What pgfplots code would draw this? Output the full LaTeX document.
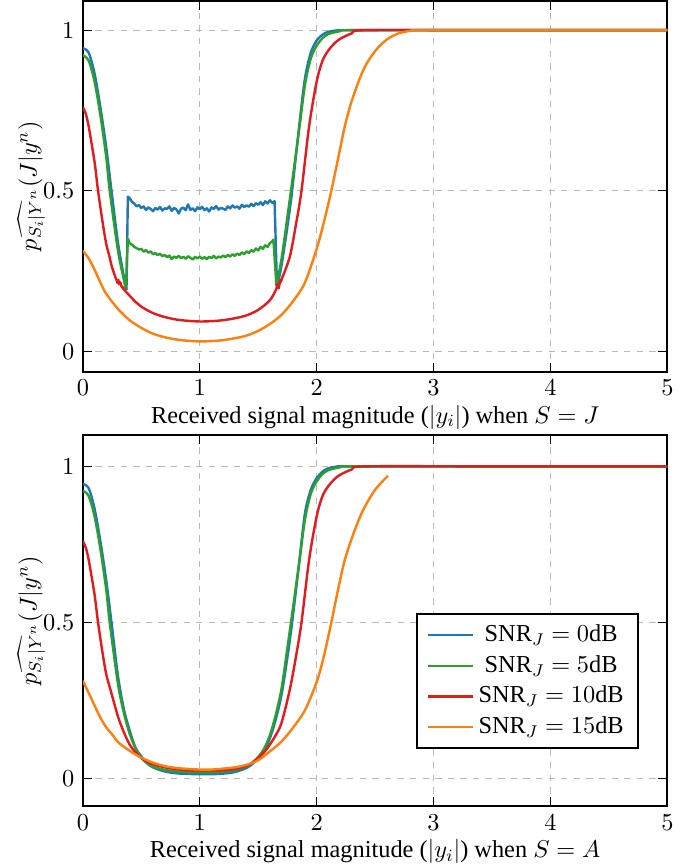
\RequirePackage{fix-cm}
\documentclass[border=0pt]{standalone}
\usepackage{amsmath}
\usepackage{fontspec}
\setmainfont{Liberation Serif}
\usepackage{pgfplots}
\pgfplotsset{compat=1.18}
\definecolor{cblue}{RGB}{31,119,180}
\definecolor{cgreen}{RGB}{44,160,44}
\definecolor{cred}{RGB}{228,26,28}
\definecolor{corange}{RGB}{255,127,14}
\pgfplotsset{myax/.style={
  scale only axis, width=278.6pt, height=176.7pt,
  xmin=0, xmax=5, xtick={0,1,2,3,4,5}, ytick={0,0.5,1},
  grid=major, grid style={dashed, gray!55, line width=0.5pt},
  axis line style={line width=0.9pt},
  tick style={black, line width=0.5pt},
  every axis plot/.append style={line width=1.15pt, line join=round},
  ylabel={$\widehat{p_{S_i|Y^n}}(J|y^n)$},
  every axis y label/.style={at={(axis description cs:-0.088,0.5)}, rotate=90, anchor=center, inner sep=1pt},
  xlabel style={yshift=0.7pt, inner sep=1pt},
}}
\begin{document}
\fontsize{11.6}{13.9}\selectfont
\begin{tikzpicture}
\begin{axis}[myax, at={(0pt,0pt)}, anchor=north west,
  ymin=-0.062, ymax=1.091,
  xlabel={Received signal magnitude ($|y_i|$) when $S=J$}]
% SNR 0 dB
\addplot[cblue, smooth, tension=0.5] coordinates {
(0,0.944)(0.05,0.930)(0.10,0.865)(0.15,0.760)(0.20,0.635)(0.245,0.500)(0.30,0.340)(0.35,0.235)(0.373,0.192)};
\addplot[cblue] coordinates {(0.373,0.192)
(0.385,0.482)(0.40,0.478)(0.42,0.466)(0.44,0.461)(0.46,0.452)(0.48,0.456)(0.50,0.447)(0.52,0.452)(0.54,0.441)
(0.56,0.449)(0.58,0.444)(0.60,0.437)(0.62,0.447)(0.64,0.442)(0.66,0.450)(0.68,0.439)(0.70,0.446)(0.72,0.444)
(0.74,0.452)(0.76,0.438)(0.78,0.447)(0.80,0.443)(0.82,0.430)(0.84,0.445)(0.86,0.448)(0.88,0.440)(0.90,0.458)
(0.92,0.441)(0.94,0.446)(0.96,0.437)(0.98,0.449)(1.00,0.443)(1.02,0.451)(1.04,0.440)(1.06,0.446)(1.08,0.436)
(1.10,0.449)(1.12,0.444)(1.14,0.453)(1.16,0.442)(1.18,0.447)(1.20,0.445)(1.22,0.441)(1.24,0.452)(1.26,0.446)
(1.28,0.455)(1.30,0.448)(1.32,0.452)(1.34,0.445)(1.36,0.457)(1.38,0.450)(1.40,0.455)(1.42,0.451)(1.44,0.460)
(1.46,0.453)(1.48,0.462)(1.50,0.457)(1.52,0.465)(1.54,0.456)(1.56,0.468)(1.58,0.461)(1.60,0.471)(1.62,0.463)
(1.64,0.468)(1.661,0.198)};
\addplot[cblue, smooth, tension=0.5] coordinates {
(1.661,0.198)(1.70,0.270)(1.75,0.390)(1.79,0.500)(1.85,0.700)(1.90,0.850)(1.95,0.930)(2.00,0.968)(2.05,0.986)
(2.10,0.995)(2.17,0.999)(2.30,1.0)(3.5,1.0)(5,1.0)};
% SNR 5 dB
\addplot[cgreen, smooth, tension=0.5] coordinates {
(0,0.922)(0.05,0.905)(0.10,0.840)(0.15,0.735)(0.20,0.605)(0.23,0.500)(0.30,0.315)(0.35,0.225)(0.368,0.195)};
\addplot[cgreen] coordinates {(0.368,0.195)
(0.385,0.352)(0.40,0.338)(0.42,0.333)(0.44,0.326)(0.46,0.322)(0.48,0.318)(0.50,0.320)(0.52,0.311)(0.54,0.316)
(0.56,0.308)(0.58,0.312)(0.60,0.303)(0.62,0.307)(0.64,0.300)(0.66,0.305)(0.68,0.297)(0.70,0.301)(0.72,0.294)
(0.74,0.299)(0.76,0.288)(0.78,0.296)(0.80,0.292)(0.82,0.298)(0.84,0.291)(0.86,0.295)(0.88,0.289)(0.90,0.297)
(0.92,0.292)(0.94,0.287)(0.96,0.295)(0.98,0.290)(1.00,0.296)(1.02,0.289)(1.04,0.294)(1.06,0.288)(1.08,0.295)
(1.10,0.291)(1.12,0.298)(1.14,0.290)(1.16,0.296)(1.18,0.293)(1.20,0.299)(1.22,0.294)(1.24,0.301)(1.26,0.296)
(1.28,0.303)(1.30,0.298)(1.32,0.305)(1.34,0.301)(1.36,0.309)(1.38,0.304)(1.40,0.312)(1.42,0.307)(1.44,0.316)
(1.46,0.311)(1.48,0.321)(1.50,0.315)(1.52,0.326)(1.54,0.320)(1.56,0.331)(1.58,0.326)(1.60,0.338)(1.62,0.343)
(1.63,0.348)(1.656,0.205)};
\addplot[cgreen, smooth, tension=0.5] coordinates {
(1.656,0.205)(1.70,0.290)(1.75,0.420)(1.78,0.500)(1.85,0.690)(1.90,0.830)(1.95,0.912)(2.00,0.952)(2.05,0.975)
(2.10,0.988)(2.20,0.997)(2.30,1.0)(3.5,1.0)(5,1.0)};
% SNR 10 dB
\addplot[cred, smooth, tension=0.5] coordinates {
(0,0.761)(0.025,0.740)(0.05,0.700)(0.10,0.590)(0.13,0.500)(0.17,0.400)(0.20,0.335)(0.225,0.300)(0.25,0.262)
(0.288,0.222)};
\addplot[cred] coordinates {
(0.288,0.222)(0.297,0.214)(0.303,0.224)(0.31,0.210)(0.32,0.216)(0.33,0.204)(0.35,0.195)};
\addplot[cred, smooth, tension=0.5] coordinates {
(0.33,0.204)(0.35,0.195)(0.373,0.185)(0.45,0.155)(0.50,0.140)(0.60,0.120)(0.70,0.108)(0.80,0.100)(0.90,0.096)
(1.00,0.094)(1.10,0.095)(1.20,0.098)(1.30,0.104)(1.40,0.113)(1.50,0.130)(1.60,0.160)(1.655,0.195)};
\addplot[cred] coordinates {
(1.655,0.195)(1.665,0.210)(1.675,0.197)(1.685,0.215)(1.70,0.225)};
\addplot[cred, smooth, tension=0.5] coordinates {
(1.685,0.215)(1.70,0.225)(1.77,0.295)(1.82,0.390)(1.87,0.500)(1.935,0.700)(2.00,0.840)(2.05,0.905)(2.10,0.937)
(2.15,0.958)(2.20,0.973)(2.30,0.990)(2.42,1.0)(3.5,1.0)(5,1.0)};
% SNR 15 dB
\addplot[corange, smooth, tension=0.5] coordinates {
(0,0.314)(0.05,0.290)(0.10,0.255)(0.15,0.215)(0.20,0.180)(0.30,0.133)(0.40,0.098)(0.50,0.074)(0.60,0.056)
(0.70,0.045)(0.80,0.038)(0.90,0.034)(1.00,0.032)(1.10,0.033)(1.20,0.036)(1.30,0.042)(1.40,0.050)(1.50,0.065)
(1.60,0.086)(1.70,0.115)(1.80,0.158)(1.90,0.215)(2.00,0.320)(2.06,0.400)(2.125,0.500)(2.20,0.630)(2.24,0.700)
(2.30,0.780)(2.40,0.877)(2.50,0.935)(2.60,0.971)(2.70,0.990)(2.80,0.998)(2.87,1.0)(3.5,1.0)(5,1.0)};
\end{axis}
\begin{axis}[myax, at={(0pt,-207.1pt)}, anchor=north west,
  ymin=-0.087, ymax=1.099,
  xlabel={Received signal magnitude ($|y_i|$) when $S=A$},
  legend style={at={(rel axis cs:0.952,0.155)}, anchor=south east,
    draw=black, line width=0.9pt, row sep=0.8pt, inner xsep=5pt, inner ysep=3pt},
  legend cell align=center,
  legend image code/.code={\draw[#1] (0cm,0cm) -- (0.75cm,0cm);}]
\addplot[cblue, smooth, tension=0.5] coordinates {
(0,0.944)(0.05,0.930)(0.10,0.865)(0.15,0.760)(0.20,0.635)(0.245,0.500)(0.30,0.330)(0.35,0.225)(0.40,0.155)
(0.45,0.100)(0.50,0.072)(0.55,0.050)(0.60,0.037)(0.70,0.024)(0.80,0.018)(0.90,0.016)(1.00,0.015)(1.10,0.015)
(1.20,0.017)(1.30,0.022)(1.40,0.035)(1.45,0.048)(1.50,0.065)(1.55,0.090)(1.60,0.130)(1.65,0.190)(1.70,0.270)
(1.75,0.390)(1.79,0.500)(1.85,0.690)(1.90,0.850)(1.95,0.925)(2.00,0.962)(2.05,0.983)(2.10,0.994)(2.17,0.999)
(2.30,1.0)(3.5,1.0)(5,1.0)};
\addlegendentry{$\text{SNR}_J = 0$dB}
\addplot[cgreen, smooth, tension=0.5] coordinates {
(0,0.922)(0.05,0.905)(0.10,0.840)(0.15,0.735)(0.20,0.605)(0.23,0.500)(0.30,0.305)(0.35,0.212)(0.40,0.145)
(0.45,0.098)(0.50,0.068)(0.55,0.050)(0.60,0.039)(0.70,0.029)(0.80,0.024)(0.90,0.022)(1.00,0.021)(1.10,0.021)
(1.20,0.023)(1.30,0.028)(1.40,0.040)(1.45,0.052)(1.50,0.070)(1.55,0.097)(1.60,0.140)(1.65,0.205)(1.70,0.290)
(1.75,0.420)(1.78,0.500)(1.85,0.690)(1.90,0.830)(1.95,0.912)(2.00,0.952)(2.05,0.975)(2.10,0.988)(2.20,0.997)
(2.30,1.0)(3.5,1.0)(5,1.0)};
\addlegendentry{$\text{SNR}_J = 5$dB}
\addplot[cred, smooth, tension=0.5] coordinates {
(0,0.761)(0.025,0.740)(0.05,0.700)(0.10,0.590)(0.13,0.500)(0.17,0.400)(0.20,0.335)(0.24,0.280)(0.30,0.200)
(0.35,0.150)(0.40,0.110)(0.45,0.085)(0.50,0.067)(0.55,0.055)(0.60,0.047)(0.70,0.037)(0.80,0.031)(0.90,0.028)
(1.00,0.027)(1.10,0.027)(1.20,0.028)(1.30,0.032)(1.40,0.042)(1.47,0.058)(1.55,0.085)(1.60,0.110)(1.65,0.140)
(1.70,0.180)(1.77,0.285)(1.82,0.385)(1.87,0.500)(1.935,0.700)(2.00,0.840)(2.05,0.905)(2.10,0.937)(2.15,0.958)
(2.20,0.973)(2.30,0.990)(2.42,1.0)(3.5,1.0)(5,1.0)};
\addlegendentry{$\text{SNR}_J = 10$dB}
\addplot[corange, smooth, tension=0.5] coordinates {
(0,0.314)(0.05,0.275)(0.10,0.235)(0.15,0.196)(0.20,0.165)(0.26,0.138)(0.30,0.118)(0.40,0.090)(0.50,0.068)
(0.60,0.052)(0.70,0.041)(0.80,0.035)(0.90,0.032)(1.00,0.030)(1.10,0.030)(1.20,0.033)(1.30,0.037)(1.40,0.045)
(1.50,0.060)(1.60,0.088)(1.70,0.120)(1.80,0.165)(1.90,0.220)(2.00,0.310)(2.06,0.390)(2.125,0.500)(2.18,0.600)
(2.24,0.700)(2.32,0.790)(2.40,0.862)(2.50,0.925)(2.61,0.970)};
\addlegendentry{$\text{SNR}_J = 15$dB}
\end{axis}
\path (-39.5pt,0pt) rectangle (292.9pt,-413.3pt);
\end{tikzpicture}
\end{document}
